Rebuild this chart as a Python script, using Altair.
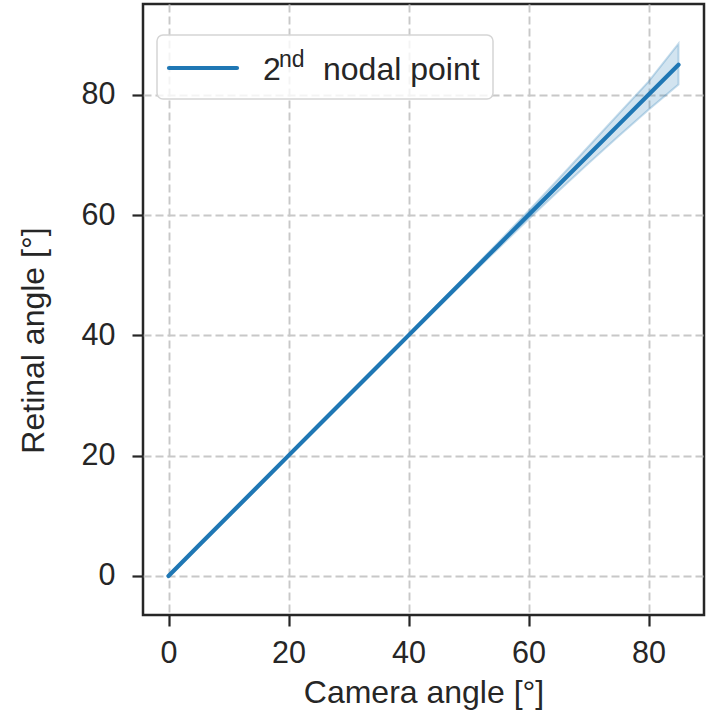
import altair as alt
import pandas as pd

# ---- data ----
camera_angle = [0, 5, 10, 15, 20, 25, 30, 35, 40, 45, 50, 55, 60, 65, 70, 75, 80, 85]
retinal_mean = [0, 5, 10, 15, 20, 25, 30, 35, 40, 45, 50, 55, 60, 65, 70, 75, 80, 85]
retinal_low = [-0.1, 4.9, 9.9, 14.85, 19.85, 24.85, 29.8, 34.8, 39.8, 44.75, 49.65, 54.5,
               59.3, 64.0, 68.6, 73.1, 77.5, 81.7]
retinal_high = [0.1, 5.1, 10.1, 15.15, 20.15, 25.15, 30.2, 35.2, 40.2, 45.25, 50.35, 55.5,
                60.7, 66.0, 71.4, 76.8, 82.2, 88.5]
x_ticks = [0, 20, 40, 60, 80]
y_ticks = [0, 20, 40, 60, 80]
legend_label_base = "2"
legend_label_sup = "nd"
legend_label_rest = "nodal point"

df = pd.DataFrame({"camera": camera_angle, "mean": retinal_mean,
                   "low": retinal_low, "high": retinal_high})
one = pd.DataFrame({"k": [0]})

FONT = "Liberation Sans"
DARK = "#262626"
BLUE = "#1f77b4"

xscale = alt.Scale(domain=[-4.25, 89.25], nice=False, zero=False)
yscale = alt.Scale(domain=[-6.5, 95.1], nice=False, zero=False)

xaxis = alt.Axis(values=x_ticks, title="Camera angle [°]", grid=True,
                 gridDash=[8, 4], gridColor="#c8c8c8", gridWidth=1.9,
                 domain=False, tickSize=11, tickWidth=2.2, tickColor=DARK,
                 labelFont=FONT, labelFontSize=30.5, labelColor=DARK,
                 labelBaseline="alphabetic", labelPadding=36,
                 titleFont=FONT, titleFontSize=32, titleFontWeight="normal",
                 titleColor=DARK, titleBaseline="alphabetic", titleY=87)
yaxis = alt.Axis(values=y_ticks, title="Retinal angle [°]", grid=True,
                 gridDash=[8, 4], gridColor="#c8c8c8", gridWidth=1.9,
                 domain=False, tickSize=11, tickWidth=2.2, tickColor=DARK,
                 labelFont=FONT, labelFontSize=30.5, labelColor=DARK,
                 labelBaseline="middle", labelPadding=17,
                 titleFont=FONT, titleFontSize=32, titleFontWeight="normal",
                 titleColor=DARK, titleBaseline="alphabetic", titleX=-100,
                 titleY=336, titleAlign="center")

band = alt.Chart(df).mark_area(fill=BLUE, fillOpacity=0.2, stroke=BLUE,
                               strokeOpacity=0.25, strokeWidth=2).encode(
    x=alt.X("camera:Q", scale=xscale, axis=xaxis),
    y=alt.Y("low:Q", scale=yscale, axis=yaxis),
    y2="high:Q",
)
line = alt.Chart(df).mark_line(color=BLUE, strokeWidth=4.2, strokeCap="round").encode(
    x=alt.X("camera:Q", scale=xscale),
    y=alt.Y("mean:Q", scale=yscale),
)

# legend drawn by hand (superscript)
leg_box = alt.Chart(one).mark_rect(fill="white", fillOpacity=0.8, stroke="#d5d5d5",
                                   strokeWidth=1.5, cornerRadius=6).encode(
    x=alt.value(14), x2=alt.value(350), y=alt.value(31), y2=alt.value(95))
leg_line = alt.Chart(one).mark_rule(color=BLUE, strokeWidth=4.2, strokeCap="round").encode(
    x=alt.value(26), x2=alt.value(94), y=alt.value(64))
leg_t1 = alt.Chart(one).mark_text(text=legend_label_base, font=FONT, fontSize=32,
                                  color=DARK, align="left", baseline="alphabetic").encode(
    x=alt.value(120), y=alt.value(76))
leg_t2 = alt.Chart(one).mark_text(text=legend_label_sup, font=FONT, fontSize=23,
                                  color=DARK, align="left", baseline="alphabetic").encode(
    x=alt.value(136), y=alt.value(63))
leg_t3 = alt.Chart(one).mark_text(text=legend_label_rest, font=FONT, fontSize=32,
                                  color=DARK, align="left", baseline="alphabetic").encode(
    x=alt.value(180), y=alt.value(76))

chart = alt.layer(band, line, leg_box, leg_line, leg_t1, leg_t2, leg_t3).properties(
    width=561, height=611,
    autosize=alt.AutoSizeParams(type="none"),
    padding={"left": 143, "top": 4, "right": 7, "bottom": 97},
    background="white",
).configure_view(stroke=DARK, strokeWidth=2.5)

chart.save("out.html", embed_options={"renderer": "svg", "actions": False})
